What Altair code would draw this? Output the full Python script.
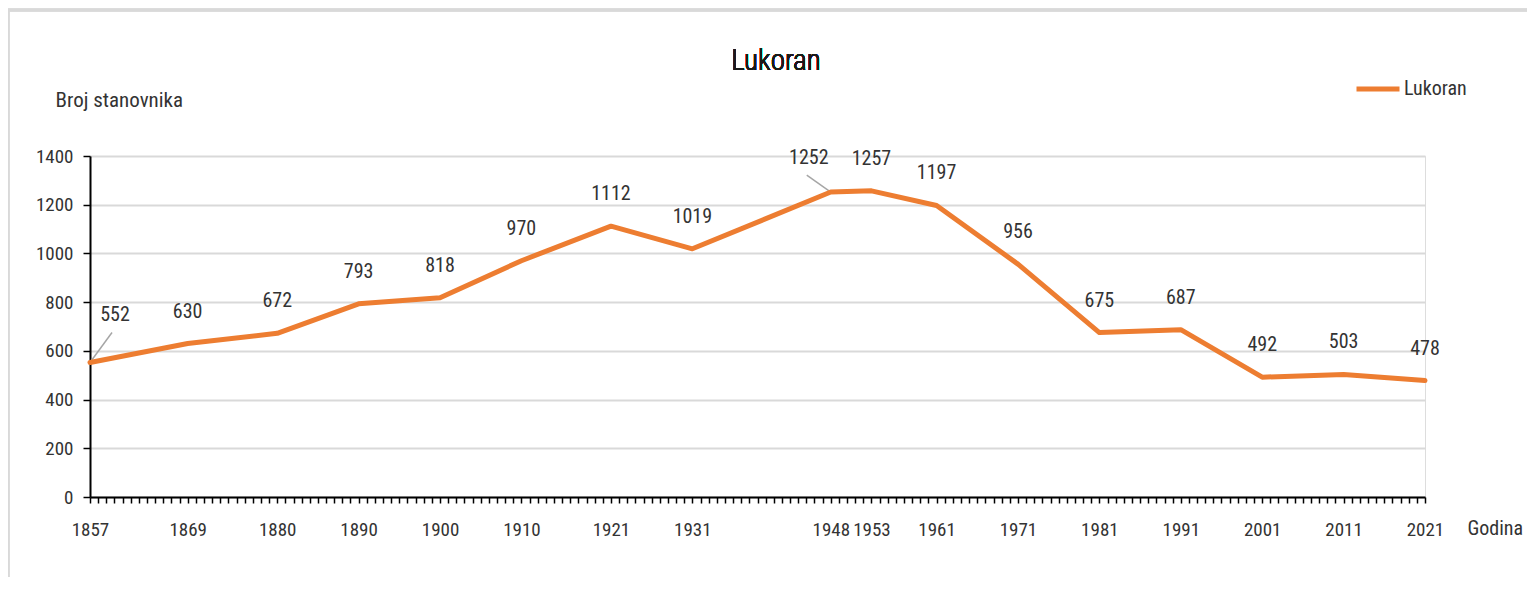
import altair as alt
import pandas as pd

series_name = "Lukoran"
chart_title = "Lukoran"
years = [1857, 1869, 1880, 1890, 1900, 1910, 1921, 1931, 1948, 1953, 1961, 1971, 1981, 1991, 2001, 2011, 2021]
population = [552, 630, 672, 793, 818, 970, 1112, 1019, 1252, 1257, 1197, 956, 675, 687, 492, 503, 478]
y_ticks = [0, 200, 400, 600, 800, 1000, 1200, 1400]

df = pd.DataFrame({"Godina": years, "Broj": population, "serija": [series_name] * len(years)})

FONT = "Liberation Sans Narrow, Roboto Condensed, Liberation Sans, sans-serif"
TXT = "#333333"
ORANGE = "#ED7D31"

all_years = list(range(years[0], years[-1] + 1))
years_str = "[" + ",".join(str(y) for y in years) + "]"

x_enc = alt.X(
    "Godina:Q",
    scale=alt.Scale(domain=[years[0], years[-1]], nice=False, zero=False),
    axis=alt.Axis(
        values=all_years,
        tickCount=len(all_years),
        labelExpr=f"indexof({years_str}, datum.value) >= 0 ? datum.value : ''",
        format="d",
        labelOverlap=False,
        labelFlush=False,
        grid=False,
        tickSize=6,
        tickWidth=1.5,
        tickColor="black",
        domainColor="black",
        domainWidth=2,
        labelFont=FONT,
        labelFontSize=19,
        labelColor=TXT,
        labelPadding=17,
        title="Godina",
        titleFont=FONT,
        titleFontSize=20,
        titleFontWeight="normal",
        titleColor=TXT,
        titleAngle=0,
        titleAlign="left",
        titleBaseline="alphabetic",
        titleX=1377,
        titleY=37,
    ),
)

y_enc = alt.Y(
    "Broj:Q",
    scale=alt.Scale(domain=[0, 1400], nice=False),
    axis=alt.Axis(
        values=y_ticks,
        format="d",
        grid=True,
        gridColor="#d9d9d9",
        gridWidth=2,
        tickSize=7,
        tickWidth=1.5,
        tickColor="black",
        domainColor="black",
        domainWidth=2,
        labelFont=FONT,
        labelFontSize=19,
        labelColor=TXT,
        labelPadding=10,
        title="Broj stanovnika",
        titleFont=FONT,
        titleFontSize=21,
        titleFontWeight="normal",
        titleColor=TXT,
        titleAngle=0,
        titleAlign="left",
        titleBaseline="middle",
        titleX=-35,
        titleY=-56,
    ),
)

base = alt.Chart(df)

border = base.mark_rect(fill=None, stroke="#d9d9d9", strokeWidth=2.5, clip=False).encode(
    x=alt.value(-82), x2=alt.value(1470), y=alt.value(-146), y2=alt.value(460)
)

title_mark = base.mark_text(
    font=FONT, fontSize=29, fontWeight=300, fill="#1a1a1a", align="center", baseline="alphabetic"
).encode(x=alt.value(686), y=alt.value(-86), text=alt.value(chart_title))

line = base.mark_line(strokeWidth=5, strokeCap="round", strokeJoin="round").encode(
    x=x_enc,
    y=y_enc,
    color=alt.Color(
        "serija:N",
        scale=alt.Scale(domain=[series_name], range=[ORANGE]),
        legend=alt.Legend(
            title=None,
            orient="none",
            legendX=1264,
            legendY=-91,
            symbolType="stroke",
            symbolSize=1849,
            symbolStrokeWidth=5,
            labelFont=FONT,
            labelFontSize=20,
            labelColor=TXT,
            labelOffset=2,
            padding=0,
        ),
    ),
)

labels = base.mark_text(font=FONT, fontSize=20, color=TXT, dy=-32).encode(
    x="Godina:Q", y="Broj:Q", text="Broj:Q"
).transform_filter(f"datum.Godina != {years[0]} && datum.Godina != 1948")

lab_first = base.mark_text(font=FONT, fontSize=20, color=TXT, dx=25, dy=-48).encode(
    x="Godina:Q", y="Broj:Q", text="Broj:Q"
).transform_filter(f"datum.Godina == {years[0]}")

lab_1948 = base.mark_text(font=FONT, fontSize=20, color=TXT, dx=-22, dy=-34).encode(
    x="Godina:Q", y="Broj:Q", text="Broj:Q"
).transform_filter("datum.Godina == 1948")

lead_first = base.mark_rule(color="#a6a6a6", strokeWidth=1.5, x2Offset=22, y2Offset=-30).encode(
    x="Godina:Q", y="Broj:Q", x2="Godina:Q", y2="Broj:Q"
).transform_filter(f"datum.Godina == {years[0]}")

lead_1948 = base.mark_rule(color="#a6a6a6", strokeWidth=1.5, x2Offset=-24, y2Offset=-17).encode(
    x="Godina:Q", y="Broj:Q", x2="Godina:Q", y2="Broj:Q"
).transform_filter("datum.Godina == 1948")

chart = alt.layer(border, title_mark, lead_first, lead_1948, line, labels, lab_first, lab_1948).properties(
    width=1335,
    height=341,
    autosize=alt.AutoSizeParams(type="none"),
    padding={"left": 82, "top": 148, "right": 102, "bottom": 80},
).configure_view(stroke=None).configure(background="white")

chart.save("out.html", embed_options={"renderer": "svg", "actions": False})
